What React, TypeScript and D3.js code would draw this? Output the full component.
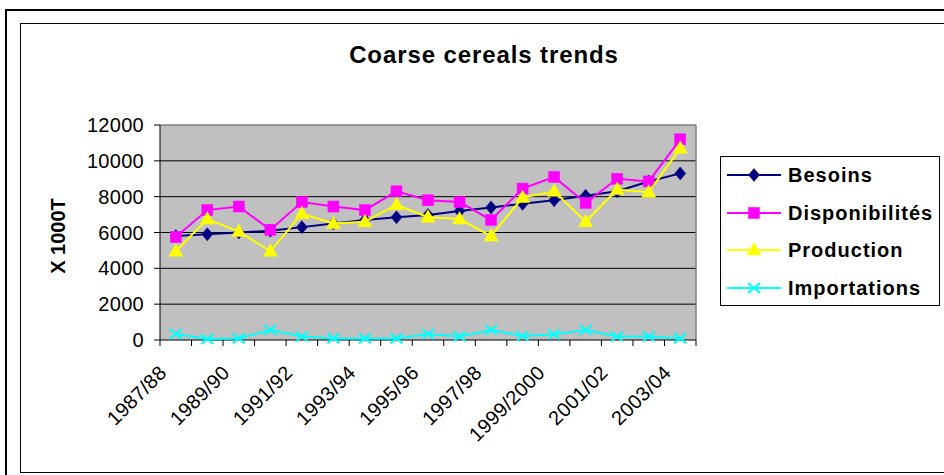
import React from "react";
import * as d3 from "d3";

const categories = ["1987/88","1988/89","1989/90","1990/91","1991/92","1992/93","1993/94","1994/95","1995/96","1996/97","1997/98","1998/99","1999/2000","2000/01","2001/02","2002/03","2003/04"];
const besoins = [5800, 5900, 6000, 6100, 6300, 6500, 6700, 6850, 6980, 7200, 7400, 7600, 7800, 8050, 8300, 8850, 9300];
const disponibilites = [5750, 7250, 7450, 6150, 7700, 7450, 7250, 8300, 7800, 7700, 6700, 8450, 9100, 7650, 9000, 8850, 11200];
const production = [4950, 6750, 6050, 4950, 7050, 6500, 6600, 7550, 6850, 6750, 5800, 7950, 8300, 6600, 8400, 8250, 10700];
const importations = [330, 50, 90, 560, 200, 90, 90, 90, 330, 200, 560, 220, 320, 560, 200, 200, 90];
const yTicks = [0, 2000, 4000, 6000, 8000, 10000, 12000];
const labelEvery = 2;

const series = [
  { name: "Besoins", values: besoins, color: "#000080", marker: "diamond" },
  { name: "Disponibilités", values: disponibilites, color: "#FF00FF", marker: "square" },
  { name: "Production", values: production, color: "#FFFF00", marker: "triangle" },
  { name: "Importations", values: importations, color: "#00FFFF", marker: "x" },
];

const W = 944, H = 475;
const plot = { left: 160, right: 696, top: 125, bottom: 340 };
const font = "'Liberation Sans', Arial, sans-serif";

function Marker({ type, x, y, color }: { type: string; x: number; y: number; color: string }) {
  if (type === "diamond") {
    return <path d={`M${x},${y - 6.5}L${x + 5.5},${y}L${x},${y + 6.5}L${x - 5.5},${y}Z`} fill={color} stroke={color} strokeWidth={0.5} />;
  }
  if (type === "square") {
    return <rect x={x - 5.5} y={y - 5.5} width={11} height={11} fill={color} stroke={color} strokeWidth={0.5} />;
  }
  if (type === "triangle") {
    return <path d={`M${x},${y - 7.5}L${x + 7},${y + 5}L${x - 7},${y + 5}Z`} fill={color} stroke={color} strokeWidth={0.5} />;
  }
  return (
    <path d={`M${x - 6},${y - 5}L${x + 6},${y + 5}M${x - 6},${y + 5}L${x + 6},${y - 5}`} stroke={color} strokeWidth={2} fill="none" />
  );
}

export default function App() {
  const x = d3.scaleBand<string>().domain(categories).range([plot.left, plot.right]);
  const y = d3.scaleLinear().domain([0, 12000]).range([plot.bottom, plot.top]);
  const cx = (c: string) => (x(c) as number) + x.bandwidth() / 2;
  const line = d3.line<number>().x((_, i) => cx(categories[i])).y((v) => y(v));
  const boundaries = d3.range(categories.length + 1).map((i) => plot.left + i * x.step());

  const legend = { x: 720, y: 156, w: 219, h: 149 };
  const legendYs = [175, 213, 250, 288];

  return (
    <svg width={W} height={H} style={{ position: "absolute", left: 0, top: 0, background: "#fff" }} fontFamily={font}>
      {/* frames */}
      <rect x={6} y={10} width={W + 20} height={H + 20} fill="none" stroke="#000" strokeWidth={2} />
      <rect x={20.5} y={23.5} width={W + 20} height={449} fill="#fff" stroke="#000" strokeWidth={1} />

      <text x={484} y={63} textAnchor="middle" fontSize={24} fontWeight="bold" letterSpacing={0.9}>Coarse cereals trends</text>

      {/* plot area */}
      <rect x={plot.left} y={plot.top} width={plot.right - plot.left} height={plot.bottom - plot.top} fill="#C0C0C0" />
      {yTicks.filter((t) => t > 0 && t < 12000).map((t) => (
        <line key={t} x1={plot.left} x2={plot.right} y1={y(t)} y2={y(t)} stroke="#000" strokeWidth={1} />
      ))}
      <line x1={plot.left} x2={plot.right} y1={plot.top} y2={plot.top} stroke="#808080" strokeWidth={1.5} />
      <line x1={plot.right} x2={plot.right} y1={plot.top} y2={plot.bottom} stroke="#808080" strokeWidth={1.5} />
      <line x1={plot.left} x2={plot.left} y1={plot.top} y2={plot.bottom} stroke="#000" strokeWidth={1} />
      <line x1={plot.left} x2={plot.right} y1={plot.bottom} y2={plot.bottom} stroke="#000" strokeWidth={1.2} />

      {/* y axis */}
      {yTicks.map((t) => (
        <g key={t}>
          <line x1={plot.left - 6} x2={plot.left} y1={y(t)} y2={y(t)} stroke="#000" />
          <text x={144} y={y(t)} dy="0.35em" textAnchor="end" fontSize={20} letterSpacing={0.3}>{t}</text>
        </g>
      ))}
      <text transform="translate(65,236) rotate(-90)" textAnchor="middle" fontSize={20} fontWeight="bold">X 1000T</text>

      {/* x axis */}
      {boundaries.map((b, i) => (
        <line key={i} x1={b} x2={b} y1={plot.bottom} y2={plot.bottom + 6} stroke="#000" />
      ))}
      {categories.map((c, i) =>
        i % labelEvery === 0 ? (
          <text key={c} transform={`translate(${cx(c) - 8},${374}) rotate(-45)`} textAnchor="end" fontSize={20} letterSpacing={0.3}>{c}</text>
        ) : null
      )}

      {/* series */}
      {series.map((s) => (
        <g key={s.name}>
          <path d={line(s.values) as string} fill="none" stroke={s.color} strokeWidth={2} />
          {s.values.map((v, i) => (
            <Marker key={i} type={s.marker} x={cx(categories[i])} y={y(v)} color={s.color} />
          ))}
        </g>
      ))}

      {/* legend */}
      <rect x={legend.x + 0.5} y={legend.y + 0.5} width={legend.w} height={legend.h} fill="#fff" stroke="#000" strokeWidth={1} />
      {series.map((s, i) => (
        <g key={s.name}>
          <line x1={727} x2={781} y1={legendYs[i]} y2={legendYs[i]} stroke={s.color} strokeWidth={2} />
          <Marker type={s.marker} x={754} y={legendYs[i]} color={s.color} />
          <text x={788} y={legendYs[i]} dy="0.35em" fontSize={20} fontWeight="bold" letterSpacing={1}>{s.name}</text>
        </g>
      ))}
    </svg>
  );
}
